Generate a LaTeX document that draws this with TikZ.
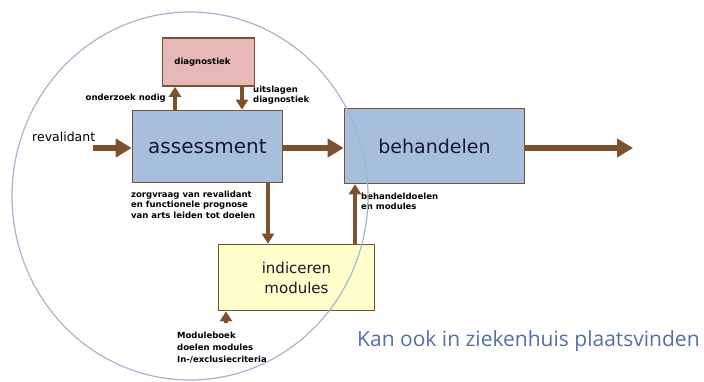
\documentclass[tikz,border=0pt]{standalone}
\usepackage{fontspec}
\setmainfont{DejaVu Sans}
\newfontfamily\notefont{Open Sans}
\usetikzlibrary{arrows.meta}

\definecolor{brownline}{HTML}{7D512E}
\definecolor{boxblue}{HTML}{A7BFDD}
\definecolor{boxpink}{HTML}{E6B8B7}
\definecolor{boxyellow}{HTML}{FFFFCC}
\definecolor{ringblue}{HTML}{A3B6CD}
\definecolor{notecolor}{HTML}{5570A6}
\definecolor{labelink}{HTML}{18182E}

\tikzset{
  procbox/.style={draw=brownline, line width=1.6pt, inner sep=0pt, text=labelink, align=center},
  bigarrow/.style={draw=brownline, line width=5.5pt, -{Triangle[length=16pt,width=18pt]}},
  midarrow/.style={draw=brownline, line width=4pt, -{Triangle[length=10pt,width=12pt]}},
  lbl/.style={inner sep=0pt, align=left, text=black, font=\bfseries\fontsize{8.5}{#1}\selectfont},
  lbl/.default=10,
}

\begin{document}
\begin{tikzpicture}[x=1pt, y=-1pt]
  \useasboundingbox (0,0) rectangle (704,381);

  % process boxes
  \node[procbox, fill=boxpink, minimum width=92pt, minimum height=48pt,
        font=\bfseries\fontsize{8.5}{10}\selectfont, text=black]
        (diag) at (208.5,62) {diagnostiek\hspace*{12pt}};
  \node[procbox, fill=boxblue, minimum width=150pt, minimum height=72pt,
        font=\fontsize{20}{24}\selectfont] (assess) at (207.5,146.5) {assessment};
  \node[procbox, fill=boxblue, minimum width=180pt, minimum height=75pt,
        font=\fontsize{19}{23}\selectfont] (beh) at (434.5,146) {behandelen};
  \node[procbox, fill=boxyellow, minimum width=156pt, minimum height=66pt,
        font=\fontsize{15}{20}\selectfont] (indic) at (296.5,277.5) {indiceren\\modules};

  % free ends and arrow columns
  \coordinate (revin) at (93,148);
  \coordinate (out) at (633,148);
  \coordinate (xa) at (175,0);
  \coordinate (xb) at (242,0);
  \coordinate (xc) at (268,0);
  \coordinate (xd) at (355,0);
  \coordinate (modin) at (226,323);

  % main flow
  \draw[bigarrow] (revin) -- (revin -| assess.west);
  \draw[bigarrow] (assess.east |- revin) -- (beh.west |- revin);
  \draw[bigarrow] (beh.east |- out) -- (out);

  % vertical connectors
  \draw[midarrow] (assess.north -| xa) -- (diag.south -| xa);
  \draw[midarrow] (diag.south -| xb) -- (assess.north -| xb);
  \draw[midarrow] (assess.south -| xc) -- (indic.north -| xc);
  \draw[midarrow] (indic.north -| xd) -- (beh.south -| xd);
  \draw[midarrow] (modin) -- (indic.south -| modin);

  % labels
  \node[inner sep=0pt, anchor=west, font=\fontsize{12.5}{15}\selectfont] (rev) at (32,137) {revalidant};
  \node[lbl, anchor=east] (onderzoek) at (166,98) {onderzoek nodig};
  \node[lbl=10, anchor=west] (uitslag) at (253,95) {uitslagen\\diagnostiek};
  \node[lbl=10.5, anchor=west] (zorg) at (131,204.5) {zorgvraag van revalidant\\en functionele prognose\\van arts leiden tot doelen};
  \node[lbl=9.5, anchor=west] (doelen) at (361,201.5) {behandeldoelen\\en modules};
  \node[lbl=12, anchor=west] (moduleboek) at (177,348) {Moduleboek\\doelen modules\\In-/exclusiecriteria};

  % scope ring drawn over the boxes
  \draw[ringblue, line width=1.2pt] (190,196) ellipse [x radius=178pt, y radius=184pt];

  \node[inner sep=0pt, anchor=west, text=notecolor, font=\notefont\fontsize{21}{25}\selectfont]
        (elders) at (357,341) {Kan ook in ziekenhuis plaatsvinden};
\end{tikzpicture}
\end{document}
